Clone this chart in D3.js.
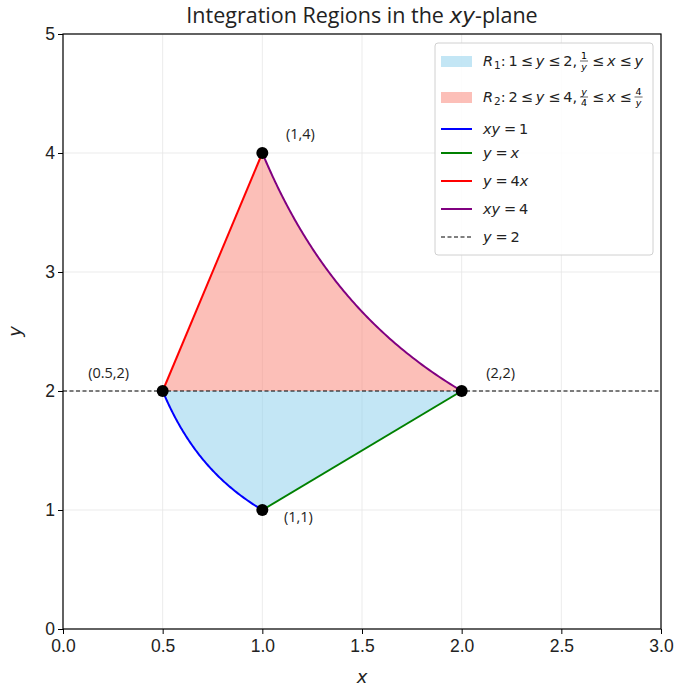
<!DOCTYPE html>
<html>
<head>
<meta charset="utf-8">
<script src="https://cdn.jsdelivr.net/npm/d3@7"></script>
<style>
  body { margin: 0; background: #fff; }
  svg { font-family: "Open Sans", Roboto, sans-serif; }
</style>
</head>
<body>
<svg id="chart" width="676" height="689"></svg>
<script>
// axis ticks
const xTicks = [0, 0.5, 1, 1.5, 2, 2.5, 3];
const yTicks = [0, 1, 2, 3, 4, 5];

// corner points of the regions
const vertices = [
  { x: 1, y: 4, label: "(1,4)", dx: 38, dy: -18 },
  { x: 0.5, y: 2, label: "(0.5,2)", dx: -54, dy: -17 },
  { x: 2, y: 2, label: "(2,2)", dx: 39, dy: -17 },
  { x: 1, y: 1, label: "(1,1)", dx: 36, dy: 8 }
];

// boundary curves: xy = k, y = m x
const hyperbolaK = [1, 4];
const lineM = [1, 4];
const dashY = 2;

const margin = { top: 34, right: 15, bottom: 60, left: 63 };
const width = 676 - margin.left - margin.right;
const height = 689 - margin.top - margin.bottom;

const svg = d3.select("#chart");
const g = svg.append("g").attr("transform", "translate(" + margin.left + "," + margin.top + ")");

const x = d3.scaleLinear().domain([0, 3]).range([0, width]);
const y = d3.scaleLinear().domain([0, 5]).range([height, 0]);

// grid
g.append("g").selectAll("line").data(xTicks).enter().append("line")
  .attr("x1", d => x(d)).attr("x2", d => x(d)).attr("y1", 0).attr("y2", height)
  .attr("stroke", "#e6e6e6").attr("stroke-width", 0.8);
g.append("g").selectAll("line").data(yTicks).enter().append("line")
  .attr("y1", d => y(d)).attr("y2", d => y(d)).attr("x1", 0).attr("x2", width)
  .attr("stroke", "#e6e6e6").attr("stroke-width", 0.8);

const line = d3.line().x(d => x(d[0])).y(d => y(d[1]));

// sample xy = k between y0 and y1
function hyper(k, y0, y1) {
  return d3.range(0, 101).map(i => {
    const yy = y0 + (y1 - y0) * i / 100;
    return [k / yy, yy];
  });
}

// R1: 1 <= y <= 2, 1/y <= x <= y
const r1 = hyper(hyperbolaK[0], 1, 2).concat([[2, 2]]);
// R2: 2 <= y <= 4, y/4 <= x <= 4/y
const r2 = [[0.5, 2], [1, 4]].concat(hyper(hyperbolaK[1], 4, 2));

g.append("path").attr("d", line(r1) + "Z").attr("fill", "#87ceeb").attr("fill-opacity", 0.5);
g.append("path").attr("d", line(r2) + "Z").attr("fill", "#fa8072").attr("fill-opacity", 0.5);

// dashed y = 2
g.append("line").attr("x1", 0).attr("x2", width).attr("y1", y(dashY)).attr("y2", y(dashY))
  .attr("stroke", "#000").attr("stroke-width", 1).attr("stroke-dasharray", "4,2.5");

// boundary curves
g.append("path").attr("d", line(hyper(hyperbolaK[0], 1, 2))).attr("fill", "none").attr("stroke", "blue").attr("stroke-width", 2);
g.append("path").attr("d", line([[1, 1 * lineM[0]], [2, 2 * lineM[0]]])).attr("fill", "none").attr("stroke", "green").attr("stroke-width", 2);
g.append("path").attr("d", line([[0.5, 0.5 * lineM[1]], [1, 1 * lineM[1]]])).attr("fill", "none").attr("stroke", "red").attr("stroke-width", 2);
g.append("path").attr("d", line(hyper(hyperbolaK[1], 2, 4))).attr("fill", "none").attr("stroke", "purple").attr("stroke-width", 2);

// points and labels
g.selectAll("circle.pt").data(vertices).enter().append("circle")
  .attr("cx", d => x(d.x)).attr("cy", d => y(d.y)).attr("r", 6).attr("fill", "#000");
g.selectAll("text.pt").data(vertices).enter().append("text")
  .attr("x", d => x(d.x) + d.dx).attr("y", d => y(d.y) + d.dy)
  .attr("text-anchor", "middle").attr("dominant-baseline", "middle")
  .attr("font-size", 14.5).attr("fill", "#222").text(d => d.label);

// axes
const xAxis = g.append("g").attr("transform", "translate(0," + height + ")")
  .call(d3.axisBottom(x).tickValues(xTicks).tickFormat(d3.format(".1f")).tickSizeOuter(0).tickSize(5));
const yAxis = g.append("g")
  .call(d3.axisLeft(y).tickValues(yTicks).tickFormat(d3.format("d")).tickSizeOuter(0).tickSize(5));
[xAxis, yAxis].forEach(a => {
  a.selectAll("text").attr("font-size", 17.5).attr("fill", "#222").style("font-family", "inherit");
  a.select(".domain").remove();
});
xAxis.selectAll("text").attr("dy", "0.85em");
g.append("rect").attr("width", width).attr("height", height)
  .attr("fill", "none").attr("stroke", "#000").attr("stroke-width", 1.2);

// titles
svg.append("text").attr("x", margin.left + width / 2).attr("y", 23).attr("text-anchor", "middle")
  .attr("font-size", 21.5).attr("fill", "#222")
  .call(t => {
    t.append("tspan").text("Integration Regions in the ");
    t.append("tspan").attr("font-style", "italic").attr("font-family", "DejaVu Sans").text("xy");
    t.append("tspan").text("-plane");
  });
svg.append("text").attr("x", margin.left + width / 2).attr("y", 683).attr("text-anchor", "middle")
  .attr("font-size", 18).attr("font-style", "italic").attr("font-family", "DejaVu Sans").attr("fill", "#222").text("x");
svg.append("text").attr("transform", "translate(21," + (margin.top + height / 2) + ") rotate(-90)")
  .attr("text-anchor", "middle").attr("font-size", 18).attr("font-style", "italic")
  .attr("font-family", "DejaVu Sans").attr("fill", "#222").text("y");

// legend
const legendItems = [
  { kind: "patch", color: "#87ceeb", parts: [["i", "R"], ["sub", "1"], ["n", ": 1 ≤ "], ["i", "y"], ["n", " ≤ 2, "], ["frac", "1", "y"], ["n", " ≤ "], ["i", "x"], ["n", " ≤ "], ["i", "y"]] },
  { kind: "patch", color: "#fa8072", parts: [["i", "R"], ["sub", "2"], ["n", ": 2 ≤ "], ["i", "y"], ["n", " ≤ 4, "], ["frac", "y", "4"], ["n", " ≤ "], ["i", "x"], ["n", " ≤ "], ["frac", "4", "y"]] },
  { kind: "line", color: "blue", parts: [["i", "xy"], ["n", " = 1"]] },
  { kind: "line", color: "green", parts: [["i", "y"], ["n", " = "], ["i", "x"]] },
  { kind: "line", color: "red", parts: [["i", "y"], ["n", " = 4"], ["i", "x"]] },
  { kind: "line", color: "purple", parts: [["i", "xy"], ["n", " = 4"]] },
  { kind: "dash", color: "#000", parts: [["i", "y"], ["n", " = 2"]] }
];
const rowY = [61, 97, 129, 153, 181, 209, 237];

const leg = svg.append("g");
leg.append("rect").attr("x", 435).attr("y", 43).attr("width", 218).attr("height", 212)
  .attr("rx", 3).attr("fill", "#fff").attr("fill-opacity", 0.85).attr("stroke", "#d0d0d0");

const fs = 14.5;
legendItems.forEach((it, i) => {
  const cy = rowY[i];
  if (it.kind === "patch") {
    leg.append("rect").attr("x", 441).attr("y", cy - 5).attr("width", 31).attr("height", 11)
      .attr("fill", it.color).attr("fill-opacity", 0.5);
  } else {
    leg.append("line").attr("x1", 441).attr("x2", 472).attr("y1", cy).attr("y2", cy)
      .attr("stroke", it.color).attr("stroke-width", it.kind === "dash" ? 1 : 2)
      .attr("stroke-dasharray", it.kind === "dash" ? "4,2.5" : null);
  }
  let cx = 483;
  const base = cy + 5;
  it.parts.forEach(p => {
    let t;
    if (p[0] === "frac") {
      const a = leg.append("text").attr("x", 0).attr("y", base - 7).attr("font-size", 9.5)
        .attr("font-family", "DejaVu Sans").attr("font-style", p[1] === "y" ? "italic" : "normal").text(p[1]);
      const b = leg.append("text").attr("x", 0).attr("y", base + 3.5).attr("font-size", 9.5)
        .attr("font-family", "DejaVu Sans").attr("font-style", p[2] === "y" ? "italic" : "normal").text(p[2]);
      const w = Math.max(a.node().getComputedTextLength(), b.node().getComputedTextLength()) + 2;
      a.attr("x", cx + w / 2).attr("text-anchor", "middle");
      b.attr("x", cx + w / 2).attr("text-anchor", "middle");
      leg.append("line").attr("x1", cx).attr("x2", cx + w).attr("y1", base - 5).attr("y2", base - 5)
        .attr("stroke", "#222").attr("stroke-width", 0.7);
      cx += w + 1;
      return;
    }
    t = leg.append("text").attr("x", cx).attr("fill", "#222").attr("font-family", "DejaVu Sans");
    if (p[0] === "sub") {
      t.attr("y", base + 3).attr("font-size", 10.5).text(p[1]);
    } else {
      t.attr("y", base).attr("font-size", fs).attr("font-style", p[0] === "i" ? "italic" : "normal")
        .text(p[1].replace(/ /g, "\u2009"));
    }
    cx += t.node().getComputedTextLength() + (p[0] === "i" ? 1 : 0);
  });
});
</script>
</body>
</html>
